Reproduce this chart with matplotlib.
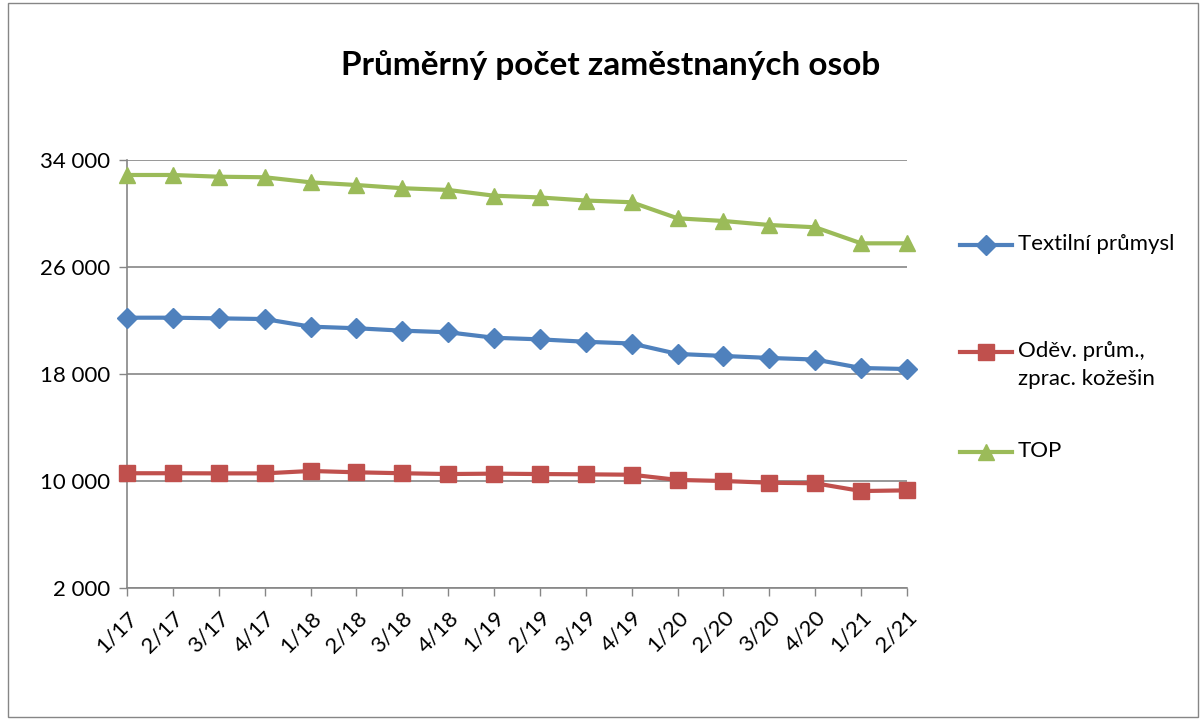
import matplotlib
matplotlib.use("Agg")
import matplotlib.pyplot as plt
from matplotlib.lines import Line2D
from matplotlib.patches import Rectangle
from matplotlib.ticker import FuncFormatter

plt.rcParams['font.family'] = ['Lato', 'DejaVu Sans']

quarters = ["1/17", "2/17", "3/17", "4/17", "1/18", "2/18", "3/18", "4/18",
            "1/19", "2/19", "3/19", "4/19", "1/20", "2/20", "3/20", "4/20",
            "1/21", "2/21"]

textil = [22210, 22210, 22160, 22110, 21540, 21420, 21240, 21120,
          20710, 20590, 20410, 20280, 19500, 19350, 19200, 19080,
          18450, 18370]
odev = [10580, 10580, 10570, 10570, 10750, 10650, 10580, 10520,
        10550, 10520, 10500, 10470, 10080, 10000, 9870, 9830,
        9250, 9300]
top = [32880, 32880, 32750, 32710, 32330, 32130, 31890, 31760,
       31330, 31200, 30970, 30840, 29640, 29440, 29140, 28970,
       27770, 27770]

series_names = ["Textilní průmysl", "Oděv. prům.,\nzprac. kožešin", "TOP"]
colors = ["#4F81BD", "#C0504D", "#9BBB59"]
markers = ["D", "s", "^"]
msizes = [10, 11, 12]

fig = plt.figure(figsize=(12.01, 7.19), dpi=100)
ax = fig.add_axes([127 / 1201, 1 - 588 / 719, 780 / 1201, 428 / 719])

x = list(range(len(quarters)))
for vals, c, m, ms in zip([textil, odev, top], colors, markers, msizes):
    ax.plot(x, vals, color=c, lw=3, marker=m, markersize=ms,
            markeredgecolor=c, zorder=3, clip_on=False)

ax.set_xlim(0, len(quarters) - 1)
ax.set_ylim(2000, 34000)
ax.set_yticks(range(2000, 34001, 8000))
ax.yaxis.set_major_formatter(FuncFormatter(lambda v, p: f"{int(v):,}".replace(",", " ")))
ax.set_xticks(x)
ax.set_xticklabels(quarters, rotation=45, ha="right", rotation_mode="anchor")
ax.tick_params(axis="both", labelsize=16, color="#868686", length=6, width=1)
ax.tick_params(axis="x", pad=8)
ax.tick_params(axis="y", pad=6)
ax.grid(axis="y", color="#868686", lw=1.2)
ax.set_axisbelow(True)
for s in ["top", "right"]:
    ax.spines[s].set_visible(False)
for s in ["left", "bottom"]:
    ax.spines[s].set_color("#868686")
    ax.spines[s].set_linewidth(1.2)

fig.text(611 / 1201, 1 - 65 / 719, "Průměrný počet zaměstnaných osob",
         ha="center", va="center", fontsize=24, fontweight="bold")

# legend drawn by hand to match spacing
leg_y = [245, 352, 452]
for name, c, m, ms, yy in zip(series_names, colors, markers, msizes, leg_y):
    fy = 1 - yy / 719
    fig.add_artist(Line2D([960 / 1201, 1012 / 1201], [fy, fy], color=c, lw=3,
                          transform=fig.transFigure))
    fig.add_artist(Line2D([986 / 1201], [fy], color=c, marker=m, markersize=ms,
                          transform=fig.transFigure))
    fig.text(1018 / 1201, fy + 0.015, name, ha="left", va="top", fontsize=16,
             linespacing=1.5)

fig.add_artist(Rectangle((8 / 1201, 2 / 719), 1190 / 1201, 714 / 719,
                         transform=fig.transFigure, fill=False,
                         edgecolor="#868686", lw=1))

fig.savefig("out.png", dpi=100)
